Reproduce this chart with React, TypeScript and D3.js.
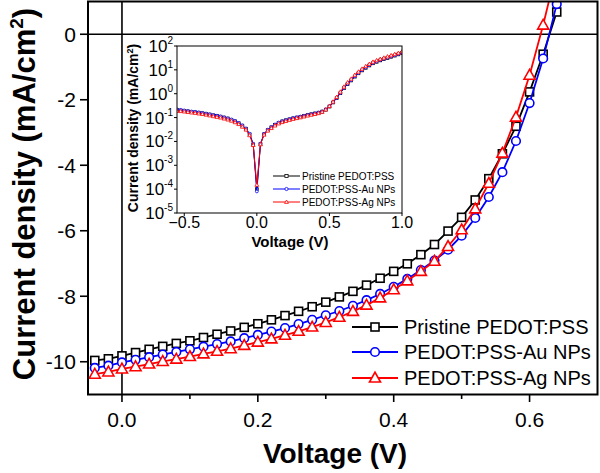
import React from "react";
import * as d3 from "d3";

// ---------- main J-V data (illuminated) ----------
const voltage = [
  -0.04, -0.02, 0.0, 0.02, 0.04, 0.06, 0.08, 0.1, 0.12, 0.14, 0.16, 0.18, 0.2, 0.22, 0.24, 0.26, 0.28, 0.3,
  0.32, 0.34, 0.36, 0.38, 0.4, 0.42, 0.44, 0.46, 0.48, 0.5, 0.52, 0.54, 0.56, 0.58, 0.6, 0.62, 0.64,
];
const pristine = [
  -9.96, -9.91, -9.82, -9.72, -9.62, -9.53, -9.44, -9.36, -9.26, -9.16, -9.06, -8.95, -8.84, -8.72, -8.59, -8.46,
  -8.32, -8.18, -8.02, -7.85, -7.66, -7.45, -7.24, -7.01, -6.73, -6.42, -6.01, -5.59, -5.06, -4.41, -3.65, -2.81,
  -1.76, -0.61, 0.68,
];
const auNPs = [
  -10.19, -10.12, -10.02, -9.94, -9.86, -9.78, -9.7, -9.62, -9.54, -9.46, -9.38, -9.28, -9.18, -9.08, -8.97, -8.85,
  -8.72, -8.58, -8.45, -8.29, -8.12, -7.93, -7.71, -7.47, -7.2, -6.91, -6.58, -6.15, -5.61, -4.97, -4.21, -3.26,
  -2.1, -0.74, 0.92,
];
const agNPs = [
  -10.38, -10.31, -10.22, -10.15, -10.07, -9.99, -9.92, -9.84, -9.76, -9.68, -9.6, -9.5, -9.4, -9.3, -9.19, -9.07,
  -8.94, -8.8, -8.64, -8.46, -8.27, -8.05, -7.8, -7.53, -7.24, -6.93, -6.48, -5.97, -5.33, -4.55, -3.63, -2.53,
  -1.25, 0.28, 2.0,
];

// ---------- inset (dark, |J| on log scale) ----------
const insetVoltage = [
  -0.55, -0.525, -0.5, -0.475, -0.45, -0.425, -0.4, -0.375, -0.35, -0.325, -0.3, -0.275, -0.25, -0.225, -0.2,
  -0.175, -0.15, -0.125, -0.1, -0.075, -0.05, -0.025, 0.0, 0.025, 0.05, 0.075, 0.1, 0.125, 0.15, 0.175, 0.2, 0.225,
  0.25, 0.275, 0.3, 0.325, 0.35, 0.375, 0.4, 0.425, 0.45, 0.475, 0.5, 0.525, 0.55, 0.575, 0.6, 0.625, 0.65, 0.675,
  0.7, 0.725, 0.75, 0.775, 0.8, 0.825, 0.85, 0.875, 0.9, 0.925, 0.95, 0.975, 1.0,
];
const insetPristine = [
  0.21, 0.2, 0.19, 0.182, 0.174, 0.168, 0.16, 0.152, 0.143, 0.134, 0.125, 0.117, 0.109, 0.1, 0.091, 0.081, 0.07,
  0.058, 0.046, 0.034, 0.02, 0.0075, 0.0001, 0.0078, 0.02, 0.03, 0.039, 0.05, 0.06, 0.069, 0.077, 0.085, 0.093, 0.1,
  0.108, 0.118, 0.128, 0.138, 0.148, 0.16, 0.178, 0.215, 0.29, 0.43, 0.65, 1.05, 1.7, 2.55, 3.6, 5.2, 7.2, 9.5, 12.2,
  15.3, 18.9, 21.8, 25.0, 28.1, 31.6, 35.4, 39.7, 44.6, 51.0,
];
const insetAu = [
  0.22, 0.21, 0.2, 0.19, 0.18, 0.175, 0.165, 0.158, 0.148, 0.138, 0.128, 0.12, 0.112, 0.102, 0.093, 0.083, 0.072,
  0.06, 0.047, 0.035, 0.021, 0.008, 0.00008, 0.008, 0.021, 0.031, 0.04, 0.051, 0.062, 0.071, 0.078, 0.087, 0.095,
  0.103, 0.11, 0.12, 0.13, 0.14, 0.15, 0.162, 0.18, 0.22, 0.3, 0.44, 0.66, 1.07, 1.74, 2.6, 3.7, 5.4, 7.4, 9.8, 12.6,
  15.8, 19.5, 22.4, 25.7, 28.8, 32.4, 36.3, 40.7, 45.7, 52.5,
];
const insetAg = [
  0.19, 0.185, 0.178, 0.17, 0.162, 0.155, 0.147, 0.14, 0.131, 0.122, 0.113, 0.106, 0.099, 0.09, 0.082, 0.073, 0.063,
  0.053, 0.041, 0.031, 0.018, 0.007, 0.00015, 0.0075, 0.019, 0.028, 0.036, 0.046, 0.056, 0.064, 0.071, 0.079, 0.087,
  0.094, 0.101, 0.11, 0.12, 0.13, 0.14, 0.152, 0.172, 0.215, 0.3, 0.46, 0.72, 1.2, 1.95, 2.95, 4.2, 6.1, 8.3, 11.0,
  14.1, 17.6, 21.6, 24.9, 28.5, 32.0, 36.0, 40.3, 45.2, 50.8, 58.5,
];

// ---------- ticks / labels ----------
const yTicks = [0, -2, -4, -6, -8, -10];
const xMajorTicks = [0.0, 0.2, 0.4, 0.6];
const xMinorTicks = [0.1, 0.3, 0.5];
const insetXTicks = [-0.5, 0.0, 0.5, 1.0];
const insetYExponents = [2, 1, 0, -1, -2, -3, -4, -5];
const seriesNames = ["Pristine PEDOT:PSS", "PEDOT:PSS-Au NPs", "PEDOT:PSS-Ag NPs"];
const seriesColors = ["#000000", "#0000ff", "#ff0000"];
const seriesShapes = ["square", "circle", "triangle"];

const FONT = "'Liberation Sans', Arial, Helvetica, sans-serif";

function Marker({ shape, x, y, s, color, sw }: any) {
  if (shape === "square") {
    return <rect x={x - s} y={y - s} width={2 * s} height={2 * s} fill="#fff" stroke={color} strokeWidth={sw} />;
  }
  if (shape === "circle") {
    return <circle cx={x} cy={y} r={s} fill="#fff" stroke={color} strokeWidth={sw} />;
  }
  const h = s * 1.25;
  return (
    <path
      d={`M${x},${y - h} L${x + s * 1.2},${y + h * 0.7} L${x - s * 1.2},${y + h * 0.7} Z`}
      fill="#fff"
      stroke={color}
      strokeWidth={sw}
    />
  );
}

export default function App() {
  // main scales
  const x = d3.scaleLinear().domain([-0.05, 0.7]).range([88, 597.5]);
  const y = d3.scaleLinear().domain([-11, 1]).range([394.5, 1.5]);
  const mainSeries = [pristine, auNPs, agNPs];
  const line = d3
    .line<[number, number]>()
    .x((d) => x(d[0]))
    .y((d) => y(d[1]));

  // inset scales
  const ix = d3.scaleLinear().domain([-0.55, 1.0]).range([177, 402]);
  const iy = d3.scaleLog().domain([1e-5, 1e2]).range([213, 46]);
  const insetSeries = [insetPristine, insetAu, insetAg];
  const iline = d3
    .line<[number, number]>()
    .x((d) => ix(d[0]))
    .y((d) => iy(d[1]));

  const legendRows = [327, 352, 378];
  const insetLegendRows = [176, 189, 202];

  return (
    <svg
      width={600}
      height={473}
      style={{ position: "absolute", left: 0, top: 0, background: "#fff" }}
      fontFamily={FONT}
    >
      <defs>
        <clipPath id="mainClip">
          <rect x={88} y={1.5} width={509.5} height={393} />
        </clipPath>
        <clipPath id="insetClip">
          <rect x={177} y={46} width={225} height={167} />
        </clipPath>
      </defs>
      <rect x={0} y={0} width={600} height={473} fill="#fff" />

      {/* zero lines */}
      <line x1={x(0)} x2={x(0)} y1={1.5} y2={394.5} stroke="#000" strokeWidth={1.6} />
      <line x1={88} x2={597.5} y1={y(0)} y2={y(0)} stroke="#000" strokeWidth={1.6} />

      {/* main curves */}
      <g clipPath="url(#mainClip)">
        {mainSeries.map((vals, si) => {
          const pts = voltage.map((v, i) => [v, vals[i]] as [number, number]);
          return (
            <g key={si}>
              <path d={line(pts) || ""} fill="none" stroke={seriesColors[si]} strokeWidth={1.8} />
              {pts.map((p, i) => (
                <Marker
                  key={i}
                  shape={seriesShapes[si]}
                  x={x(p[0])}
                  y={y(p[1])}
                  s={si === 0 ? 4 : si === 1 ? 4.3 : 4.6}
                  color={seriesColors[si]}
                  sw={1.6}
                />
              ))}
            </g>
          );
        })}
      </g>

      {/* main frame */}
      <rect x={88} y={1.5} width={509.5} height={393} fill="none" stroke="#000" strokeWidth={2} />

      {/* y ticks */}
      {yTicks.map((t) => (
        <g key={t}>
          <line x1={80} x2={88} y1={y(t)} y2={y(t)} stroke="#000" strokeWidth={1.6} />
          <text x={76} y={y(t) + 7.5} textAnchor="end" fontSize={21}>
            {t}
          </text>
        </g>
      ))}
      {/* x ticks */}
      {xMajorTicks.map((t) => (
        <g key={t}>
          <line x1={x(t)} x2={x(t)} y1={395} y2={402} stroke="#000" strokeWidth={1.6} />
          <text x={x(t)} y={427} textAnchor="middle" fontSize={21}>
            {d3.format(".1f")(t)}
          </text>
        </g>
      ))}
      {xMinorTicks.map((t) => (
        <line key={t} x1={x(t)} x2={x(t)} y1={395} y2={399} stroke="#000" strokeWidth={1.6} />
      ))}

      {/* axis titles */}
      <text x={335} y={463} textAnchor="middle" fontSize={28} fontWeight="bold">
        Voltage (V)
      </text>
      <text transform="translate(35,194) rotate(-90)" textAnchor="middle" fontSize={31} fontWeight="bold">
        Current density (mA/cm<tspan dy={-12} fontSize={19}>2</tspan>
        <tspan dy={12}>)</tspan>
      </text>

      {/* main legend */}
      {seriesNames.map((name, si) => (
        <g key={name}>
          <line x1={352} x2={398} y1={legendRows[si]} y2={legendRows[si]} stroke={seriesColors[si]} strokeWidth={1.8} />
          <Marker
            shape={seriesShapes[si]}
            x={375}
            y={legendRows[si]}
            s={si === 0 ? 4 : si === 1 ? 4.3 : 4.6}
            color={seriesColors[si]}
            sw={1.6}
          />
          <text x={404} y={legendRows[si] + 7} fontSize={20}>
            {name}
          </text>
        </g>
      ))}

      {/* ---------- inset ---------- */}
      <rect x={177} y={46} width={225} height={167} fill="#fff" />
      <g clipPath="url(#insetClip)">
        {insetSeries.map((vals, si) => {
          const pts = insetVoltage.map((v, i) => [v, vals[i]] as [number, number]);
          return (
            <g key={si}>
              <path d={iline(pts) || ""} fill="none" stroke={seriesColors[si]} strokeWidth={1} />
              {pts.map((p, i) => (
                <Marker
                  key={i}
                  shape={seriesShapes[si]}
                  x={ix(p[0])}
                  y={iy(p[1])}
                  s={si === 2 ? 1.6 : 1.4}
                  color={seriesColors[si]}
                  sw={0.8}
                />
              ))}
            </g>
          );
        })}
      </g>
      <rect x={177} y={46} width={225} height={167} fill="none" stroke="#000" strokeWidth={1} />

      {insetYExponents.map((e) => {
        const yy = iy(Math.pow(10, e));
        return (
          <g key={e}>
            <line x1={174} x2={177} y1={yy} y2={yy} stroke="#000" strokeWidth={1} />
            <text x={173} y={yy + 6} textAnchor="end" fontSize={17}>
              10<tspan dy={-8} fontSize={10}>{e}</tspan>
            </text>
          </g>
        );
      })}
      {insetXTicks.map((t) => (
        <g key={t}>
          <line x1={ix(t)} x2={ix(t)} y1={213} y2={216} stroke="#000" strokeWidth={1} />
          <text x={ix(t)} y={228} textAnchor="middle" fontSize={16}>
            {d3.format(".1f")(t)}
          </text>
        </g>
      ))}
      <text x={290} y={247} textAnchor="middle" fontSize={15} fontWeight="bold">
        Voltage (V)
      </text>
      <text transform="translate(138,128) rotate(-90)" textAnchor="middle" fontSize={14} fontWeight="bold">
        Current density (mA/cm<tspan dy={-5} fontSize={9}>2</tspan>
        <tspan dy={5}>)</tspan>
      </text>

      {/* inset legend */}
      {seriesNames.map((name, si) => (
        <g key={name}>
          <line
            x1={273}
            x2={300}
            y1={insetLegendRows[si]}
            y2={insetLegendRows[si]}
            stroke={seriesColors[si]}
            strokeWidth={1}
          />
          <Marker
            shape={seriesShapes[si]}
            x={286.5}
            y={insetLegendRows[si]}
            s={1.6}
            color={seriesColors[si]}
            sw={0.8}
          />
          <text x={302} y={insetLegendRows[si] + 3.5} fontSize={10}>
            {name}
          </text>
        </g>
      ))}
    </svg>
  );
}
